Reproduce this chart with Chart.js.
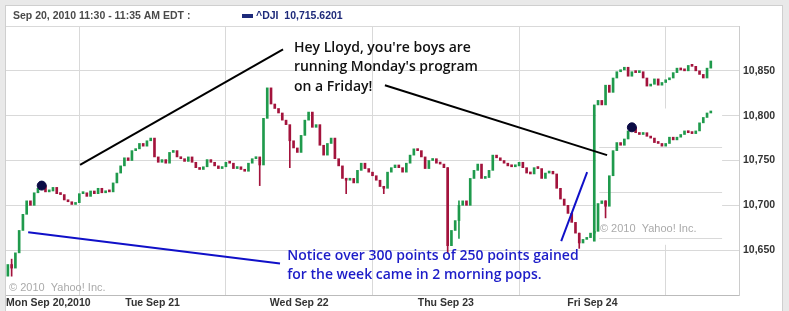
<!DOCTYPE html>
<html>
<head>
<meta charset="utf-8">
<script src="https://cdn.jsdelivr.net/npm/chart.js@4.4.0/dist/chart.umd.min.js"></script>
<style>
html, body { margin: 0; padding: 0; background: #fff; }
#wrap { width: 789px; height: 311px; position: relative; }
</style>
</head>
<body>
<div id="wrap"><canvas id="chart" width="789" height="311"></canvas></div>
<script>
// 10-minute candles, 39 per session
var dayLabels = ["Mon Sep 20,2010", "Tue Sep 21", "Wed Sep 22", "Thu Sep 23", "Fri Sep 24", ""];
var perDay = 39;
var yTicks = [10650, 10700, 10750, 10800, 10850];

var monOpen = 10621;
var monClose = [10634,10630,10647,10672,10690,10705,10700,10714,10719,10722,10715,10716,10720,10713,10712,10706,10704,10701,10703,10713,10714,10710,10716,10713,10719,10714,10716,10715,10725,10736,10744,10753,10750,10761,10763,10769,10766,10772,10775];
var tueClose = [10754,10748,10751,10747,10759,10761,10754,10752,10749,10754,10748,10742,10740,10743,10751,10748,10744,10741,10743,10748,10747,10741,10743,10740,10738,10747,10752,10754,10745,10797,10831,10813,10808,10803,10795,10790,10772,10764,10759];
var wedClose = [10778,10795,10804,10787,10790,10767,10756,10769,10775,10752,10744,10730,10728,10730,10725,10739,10747,10741,10737,10733,10728,10721,10719,10737,10742,10745,10742,10737,10747,10756,10763,10761,10754,10741,10750,10752,10747,10746,10742];
var thuClose = [10655,10672,10683,10700,10705,10700,10730,10739,10746,10730,10731,10739,10756,10753,10750,10747,10744,10743,10744,10748,10742,10736,10735,10742,10741,10730,10736,10738,10735,10719,10707,10700,10691,10681,10669,10658,10662,10664,10669];
var friClose = [10812,10817,10812,10834,10826,10842,10849,10851,10854,10844,10849,10848,10849,10842,10833,10835,10841,10834,10837,10840,10842,10848,10853,10851,10850,10856,10855,10850,10846,10842,10853,10861];

// the Monday chart pasted over Friday
var pasteOpen = 10660;
var pasteClose = [10671,10702,10705,10699,10733,10761,10770,10767,10774,10783,10787,10781,10779,10781,10777,10775,10770,10769,10766,10769,10776,10773,10776,10779,10783,10781,10780,10783,10792,10798,10803,10804];
var pasteGrid = [10664, 10715, 10765];

// long wicks that stand out (candle index across the week)
var wickIdx  = [1, 67, 75, 90, 100, 117, 120, 152, 159];
var wickLow  = [10621, 10722, 10742, 10713, 10713, 10647, 10663, 10652, 10686];
var wickHigh = [10640, 10752, 10772, 10730, 10721, 10742, 10705, 10669, 10705];

var GREEN = "#1f9a4c", RED = "#a3133c";

function candles(closes, open, start) {
	var out = [], prev = open;
	closes.forEach(function (c, i) {
		out.push({x: start + i + 0.5, y: [prev, c]});
		prev = c;
	});
	return out;
}
var mainCandles = candles(monClose.concat(tueClose, wedClose, thuClose, friClose), monOpen, 0);
var pasteCandles = candles(pasteClose, pasteOpen, 4 * perDay);
var wicks = wickIdx.map(function (k, i) {
	var src = k === 159 ? pasteCandles[k - 4 * perDay] : mainCandles[k];
	return {x: k + 0.5, y: [wickLow[i], wickHigh[i]], up: src.y[1] >= src.y[0]};
});
var dots = [
	{x: 9.5, y: monClose[9]},
	{x: 4 * perDay + 10.5, y: pasteClose[10]}
];

function candleColor(ctx) {
	var r = ctx.raw;
	if (!r) return GREEN;
	if (r.up !== undefined) return r.up ? GREEN : RED;
	return r.y[1] >= r.y[0] ? GREEN : RED;
}

var framePlugin = {
	id: "frame",
	beforeDraw: function (chart) {
		var c = chart.ctx;
		c.save();
		c.fillStyle = "#ffffff";
		c.fillRect(0, 0, 789, 311);
		c.fillStyle = "#e9e9e9";
		c.fillRect(0, 0, 789, 5);
		c.fillRect(0, 0, 5, 311);
		c.fillRect(783, 0, 6, 311);
		c.strokeStyle = "#cfcfcf";
		c.lineWidth = 1;
		c.beginPath();
		c.moveTo(5.5, 5); c.lineTo(5.5, 311);
		c.moveTo(5, 5.5); c.lineTo(783, 5.5);
		c.moveTo(782.5, 5); c.lineTo(782.5, 311);
		c.stroke();
		// header
		c.font = "bold 10.5px 'Liberation Sans', Arial, sans-serif";
		c.textBaseline = "middle";
		c.fillStyle = "#4a4a4a";
		c.fillText("Sep 20, 2010 11:30 - 11:35 AM EDT :", 13, 16);
		c.fillStyle = "#1e2a7a";
		c.fillRect(242, 14, 11, 4);
		c.fillText("^DJI  10,715.6201", 256, 16);
		c.restore();
	},
	beforeDatasetsDraw: function (chart) {
		var c = chart.ctx, x = chart.scales.x, y = chart.scales.y;
		c.save();
		// pasted chart patch
		var l = x.getPixelForValue(4 * perDay + 1), r = x.getPixelForValue(190.5);
		var t = y.getPixelForValue(10808), b = y.getPixelForValue(10656);
		c.fillStyle = "#ffffff";
		c.fillRect(l, t, r - l, b - t);
		c.strokeStyle = "#d9d9d9";
		c.lineWidth = 1;
		c.beginPath();
		pasteGrid.forEach(function (v) {
			var p = Math.round(y.getPixelForValue(v)) + 0.5;
			c.moveTo(l + 3, p); c.lineTo(r, p);
		});
		c.stroke();
		c.font = "11px 'Liberation Sans', Arial, sans-serif";
		c.fillStyle = "#aaaaaa";
		c.textBaseline = "middle";
		c.fillText("\u00a9 2010  Yahoo! Inc.", x.getPixelForValue(4 * perDay + 2), y.getPixelForValue(10674));
		c.fillText("\u00a9 2010  Yahoo! Inc.", x.getPixelForValue(0.8), y.getPixelForValue(10608));
		c.restore();
	},
	afterDatasetsDraw: function (chart) {
		var c = chart.ctx, x = chart.scales.x, y = chart.scales.y;
		function seg(x1, v1, x2, v2, col) {
			c.strokeStyle = col;
			c.beginPath();
			c.moveTo(x.getPixelForValue(x1), y.getPixelForValue(v1));
			c.lineTo(x.getPixelForValue(x2), y.getPixelForValue(v2));
			c.stroke();
		}
		c.save();
		c.lineWidth = 2;
		seg(19.7, 10745, 73.7, 10874, "#000000");
		seg(100.8, 10834, 159.9, 10756, "#000000");
		seg(5.9, 10670, 72.9, 10635, "#1010c8");
		seg(147.7, 10660, 154.6, 10737, "#1010c8");
		c.textBaseline = "middle";
		c.font = "600 14px 'Open Sans', sans-serif";
		c.fillStyle = "#111111";
		var tx = x.getPixelForValue(76.6);
		c.fillText("Hey Lloyd, you're boys are", tx, y.getPixelForValue(10875));
		c.fillText("running Monday's program", tx, y.getPixelForValue(10854));
		c.fillText("on a Friday!", tx, y.getPixelForValue(10832));
		c.fillStyle = "#1c1cc8";
		var bx = x.getPixelForValue(74.8);
		c.fillText("Notice over 300 points of 250 points gained", bx, y.getPixelForValue(10644));
		c.fillText("for the week came in 2 morning pops.", bx, y.getPixelForValue(10622));
		c.restore();
	}
};

var ChartObject = new Chart(document.getElementById("chart").getContext("2d"), {
	type: "bar",
	data: {
		datasets: [
			{
				type: "line",
				data: dots,
				showLine: false,
				pointRadius: 4.5,
				pointBackgroundColor: "#0b0b45",
				pointBorderColor: "#0b0b45"
			},
			{
				data: wicks,
				backgroundColor: candleColor,
				barThickness: 1,
				grouped: false
			},
			{
				data: mainCandles,
				backgroundColor: candleColor,
				barThickness: 2,
				minBarLength: 2,
				grouped: false
			},
			{
				data: pasteCandles,
				backgroundColor: candleColor,
				barThickness: 2,
				minBarLength: 2,
				grouped: false
			}
		]
	},
	options: {
		responsive: false,
		animation: false,
		devicePixelRatio: 1,
		layout: {padding: {left: 6, top: 26, right: 0, bottom: 0}},
		plugins: {legend: {display: false}, tooltip: {enabled: false}},
		scales: {
			x: {
				type: "linear",
				offset: false,
				min: 0,
				max: 5 * perDay,
				afterFit: function (s) { s.height = 16; },
				grid: {color: "#d9d9d9", drawTicks: false},
				border: {color: "#bbbbbb"},
				ticks: {
					stepSize: perDay,
					align: "inner",
					maxRotation: 0,
					autoSkip: false,
					padding: 2,
					color: "#333333",
					font: {family: "'Liberation Sans', Arial, sans-serif", size: 10.5, weight: "bold"},
					callback: function (v) { return dayLabels[Math.round(v / perDay)]; }
				}
			},
			y: {
				position: "right",
				min: 10600,
				max: 10900,
				afterFit: function (s) { s.width = 50; },
				grid: {color: "#d9d9d9", drawTicks: false},
				border: {color: "#cccccc"},
				ticks: {
					stepSize: 50,
					padding: 4,
					color: "#333333",
					font: {family: "'Liberation Sans', Arial, sans-serif", size: 10.5, weight: "bold"},
					callback: function (v) { return yTicks.indexOf(v) >= 0 ? v.toLocaleString("en-US") : ""; }
				}
			}
		}
	},
	plugins: [framePlugin]
});
</script>
</body>
</html>
